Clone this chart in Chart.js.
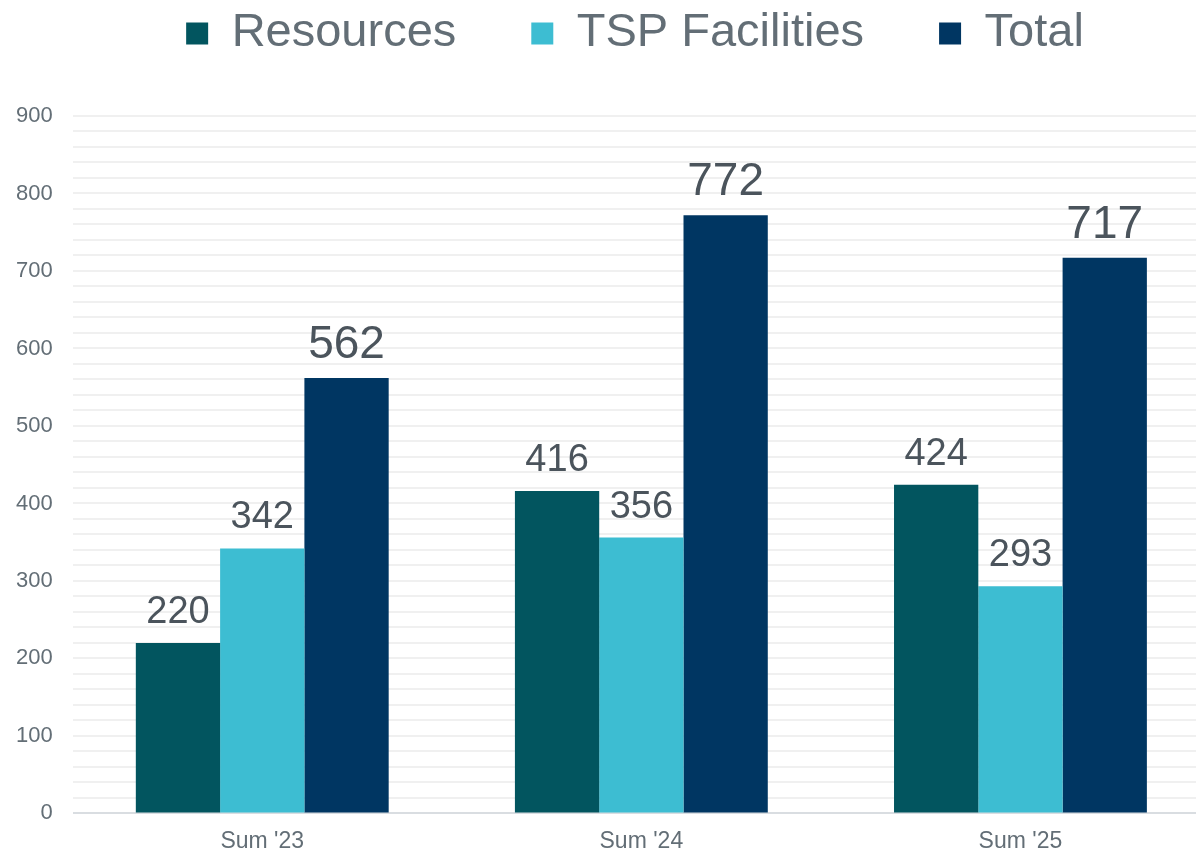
<!DOCTYPE html>
<html>
<head>
<meta charset="utf-8">
<script src="https://cdn.jsdelivr.net/npm/chart.js@4"></script>
<style>
  html, body { margin: 0; padding: 0; background: #fff; overflow: hidden; }
  #wrap { width: 1196px; height: 853px; overflow: hidden; }
</style>
</head>
<body>
<div id="wrap"><canvas id="chart" width="1270" height="862"></canvas></div>
<script>
const categories  = ["Sum '23", "Sum '24", "Sum '25"];
const resources   = [220, 416, 424];
const tspFacility = [342, 356, 293];
const totals      = [562, 772, 717];

const textGrey  = '#636e76';
const labelGrey = '#4b545c';
const font      = 'Liberation Sans, Arial, sans-serif';

// value labels above each bar
const barLabels = {
  id: 'barLabels',
  afterDatasetsDraw(chart) {
    const ctx = chart.ctx;
    ctx.save();
    ctx.fillStyle = labelGrey;
    ctx.textAlign = 'center';
    ctx.textBaseline = 'alphabetic';
    chart.data.datasets.forEach((ds, i) => {
      const size = i === 2 ? 46 : 38;
      ctx.font = size + 'px ' + font;
      chart.getDatasetMeta(i).data.forEach((bar, j) => {
        ctx.fillText(ds.data[j], bar.x, bar.y - 20);
      });
    });
    ctx.restore();
  }
};

// keep the legend compact: the item padding is wide, but the box should not be tall
const legendFit = {
  id: 'legendFit',
  beforeLayout(chart) {
    const lg = chart.legend;
    if (!lg || lg._patched) return;
    const fit = lg.fit;
    lg.fit = function () { fit.call(this); this.height = 116; };
    lg._patched = true;
  },
  afterLayout(chart) {
    const lg = chart.legend;
    lg.top -= 65;
    lg.left += 32;
    lg.right += 32;
  }
};

new Chart(document.getElementById('chart'), {
  type: 'bar',
  data: {
    labels: categories,
    datasets: [
      { label: 'Resources',      data: resources,   backgroundColor: '#02555f' },
      { label: 'TSP Facilities', data: tspFacility, backgroundColor: '#3dbdd2' },
      { label: 'Total',          data: totals,      backgroundColor: '#003662' }
    ]
  },
  options: {
    responsive: false,
    animation: false,
    layout: { padding: { left: -4, right: 60, top: 0, bottom: 1 } },
    datasets: { bar: { barPercentage: 1, categoryPercentage: 0.667 } },
    scales: {
      x: {
        grid: { display: false },
        border: { display: false },
        ticks: { color: textGrey, padding: 6, font: { family: font, size: 23 } }
      },
      y: {
        min: 0,
        max: 900,
        border: { display: false },
        grid: {
          drawTicks: false,
          lineWidth: 2,
          color: c => c.tick.value === 0 ? '#d9dde1' : '#f0f0f0'
        },
        ticks: {
          stepSize: 20,
          autoSkip: false,
          padding: 20,
          color: textGrey,
          font: { family: font, size: 22 },
          callback: v => v % 100 === 0 ? v : ''
        }
      }
    },
    plugins: {
      tooltip: { enabled: false },
      legend: {
        position: 'top',
        labels: {
          color: textGrey,
          font: { family: font, size: 47 },
          boxWidth: 22,
          boxHeight: 22,
          padding: 75
        }
      }
    }
  },
  plugins: [barLabels, legendFit]
});
</script>
</body>
</html>
